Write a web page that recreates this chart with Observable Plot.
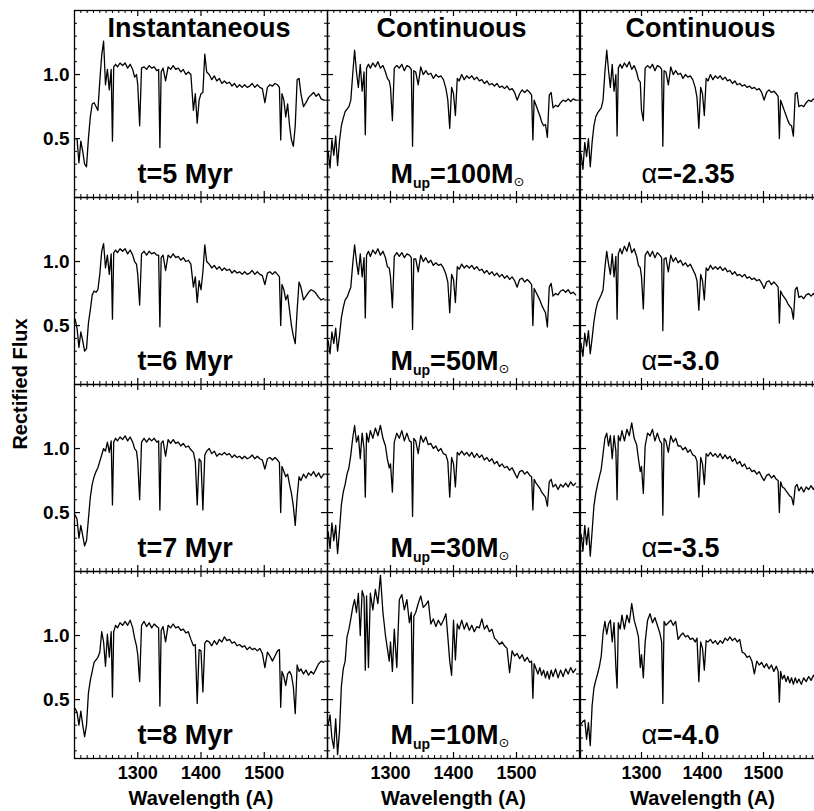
<!DOCTYPE html>
<html><head><meta charset="utf-8">
<script src="https://cdn.jsdelivr.net/npm/d3@7"></script>
<script src="https://cdn.jsdelivr.net/npm/@observablehq/plot@0.6"></script>
<style>
html,body{margin:0;padding:0;background:#fff;}
#wrap{position:relative;width:814px;height:811px;overflow:hidden;background:#fff;font-family:"Liberation Sans",Arial,sans-serif;}
.col{position:absolute;top:0;}
#ylab{position:absolute;left:20px;top:384px;transform:translate(-50%,-50%) rotate(-90deg);font:bold 20px "Liberation Sans",Arial,sans-serif;white-space:nowrap;color:#000;}
</style></head>
<body><div id="wrap"><div id="ylab">Rectified Flux</div></div>
<script>
// Wavelength grid (Angstrom)
const wavelength = [1201,1204,1207,1210,1213,1216,1219,1222,1225,1228,
1231,1234,1237,1240,1243,1246,1249,1252,1255,1258,
1260,1262,1265,1268,1272,1276,1280,1284,1288,1292,
1295,1298,1300,1303,1306,1310,1314,1318,1322,1326,
1330,1333,1335,1337,1340,1344,1348,1352,1356,1360,
1364,1368,1372,1376,1380,1384,1388,1391,1394,1397,
1400,1403,1406,1409,1413,1417,1421,1425,1429,1433,
1437,1441,1445,1449,1453,1457,1461,1465,1469,1473,
1477,1481,1485,1489,1493,1497,1501,1505,1509,1513,
1517,1521,1524,1526,1528,1531,1534,1537,1540,1543,
1546,1549,1552,1555,1558,1562,1566,1570,1574,1578,
1582,1586,1590,1594];

// Instantaneous burst
const t5 = [0.50,0.50,0.31,0.48,0.40,0.30,0.28,0.50,0.67,0.77,
0.78,0.75,0.72,0.95,1.15,1.26,0.92,1.04,0.88,1.04,
0.48,1.06,1.08,1.06,1.09,1.07,1.09,1.05,1.08,1.04,
0.98,1.00,0.92,0.60,1.05,1.06,1.04,1.07,1.05,1.06,
1.03,1.04,0.43,1.02,1.05,0.95,1.06,1.04,1.07,1.04,
1.05,1.02,1.04,1.00,1.02,1.00,0.72,0.85,0.62,0.80,
0.85,0.86,1.16,1.02,1.00,0.96,0.99,0.95,0.97,0.93,
0.95,0.93,0.94,0.91,0.93,0.90,0.92,0.90,0.92,0.90,
0.91,0.93,0.90,0.92,0.90,0.89,0.78,0.90,0.92,0.91,
0.93,0.92,0.90,0.49,0.85,0.80,0.67,0.77,0.60,0.49,
0.44,0.60,0.96,0.97,0.85,0.75,0.78,0.82,0.84,0.86,
0.83,0.85,0.81,0.80];
const t6 = [0.55,0.48,0.33,0.45,0.38,0.30,0.32,0.52,0.62,0.74,
0.77,0.76,0.78,0.90,1.08,1.14,0.95,1.05,0.90,1.06,
0.55,1.07,1.09,1.07,1.10,1.08,1.10,1.06,1.09,1.05,
1.00,0.98,0.90,0.66,1.06,1.08,1.05,1.08,1.06,1.07,
1.05,1.05,0.49,1.03,1.05,0.93,1.05,1.03,1.06,1.03,
1.04,1.01,1.03,1.00,1.01,0.98,0.80,0.88,0.68,0.85,
0.78,0.92,1.13,1.00,0.98,0.95,0.97,0.94,0.96,0.93,
0.95,0.93,0.94,0.91,0.93,0.91,0.92,0.90,0.92,0.90,
0.91,0.93,0.90,0.92,0.90,0.89,0.82,0.91,0.92,0.90,
0.92,0.90,0.88,0.50,0.82,0.78,0.70,0.74,0.62,0.50,
0.42,0.36,0.62,0.84,0.80,0.70,0.73,0.76,0.78,0.77,
0.75,0.72,0.70,0.71];
const t7 = [0.48,0.45,0.30,0.40,0.32,0.24,0.28,0.45,0.62,0.72,
0.78,0.82,0.85,0.90,0.95,1.00,0.98,1.05,0.97,1.06,
0.56,1.05,1.08,1.06,1.09,1.07,1.10,1.06,1.09,1.05,
1.00,0.98,0.90,0.60,1.05,1.08,1.05,1.08,1.06,1.08,
1.05,1.06,0.52,1.04,1.06,0.94,1.07,1.04,1.07,1.04,
1.05,1.02,1.04,1.01,1.02,0.99,0.97,0.90,0.56,0.92,
0.90,0.52,0.95,0.98,1.00,0.96,0.98,0.94,0.96,0.95,
0.97,0.95,0.96,0.93,0.95,0.93,0.94,0.92,0.94,0.92,
0.93,0.95,0.92,0.94,0.92,0.91,0.84,0.92,0.93,0.91,
0.93,0.91,0.89,0.50,0.86,0.82,0.78,0.80,0.72,0.65,
0.55,0.40,0.62,0.78,0.75,0.80,0.77,0.81,0.79,0.82,
0.78,0.81,0.77,0.80];
const t8 = [0.43,0.40,0.30,0.41,0.30,0.21,0.30,0.55,0.65,0.72,
0.79,0.81,0.83,0.87,1.03,0.95,0.76,1.01,0.83,1.03,
0.52,1.03,1.08,1.06,1.10,1.08,1.11,1.08,1.12,1.06,
0.98,0.92,0.85,0.64,1.08,1.11,1.07,1.10,1.06,1.09,
1.07,1.06,0.45,1.04,1.07,0.95,1.08,1.06,1.09,1.06,
1.07,1.04,1.05,1.02,1.03,0.97,0.92,0.93,0.47,0.89,
0.88,0.56,0.94,0.96,0.95,0.92,0.96,0.93,0.97,0.95,
0.99,0.96,0.97,0.94,0.95,0.92,0.93,0.91,0.92,0.89,
0.91,0.89,0.90,0.88,0.90,0.86,0.75,0.87,0.84,0.80,
0.84,0.88,0.89,0.44,0.72,0.68,0.61,0.70,0.72,0.69,
0.60,0.39,0.77,0.72,0.74,0.70,0.73,0.69,0.72,0.70,
0.74,0.78,0.80,0.79];

// Continuous, varying upper mass limit
const m100 = [0.40,0.27,0.49,0.37,0.52,0.29,0.48,0.60,0.66,0.71,
0.73,0.75,0.80,1.00,1.19,1.02,0.90,1.08,0.87,1.02,
0.53,1.05,1.08,1.05,1.09,1.06,1.10,1.05,1.07,1.02,
0.97,0.95,0.90,0.64,1.05,1.07,1.05,1.08,1.03,1.07,
1.06,1.04,0.44,1.03,1.02,0.92,1.06,1.00,1.03,1.00,
1.01,0.97,1.00,0.98,0.99,0.96,0.89,0.80,0.58,0.90,
0.85,0.68,0.97,0.95,1.00,0.96,0.99,0.97,0.99,0.96,
0.98,0.95,0.96,0.93,0.95,0.92,0.93,0.91,0.93,0.90,
0.91,0.89,0.91,0.88,0.89,0.86,0.80,0.85,0.88,0.86,
0.88,0.86,0.84,0.49,0.80,0.76,0.72,0.68,0.63,0.60,
0.61,0.51,0.84,0.86,0.74,0.76,0.75,0.78,0.80,0.79,
0.81,0.79,0.81,0.80];
const m50 = [0.38,0.28,0.45,0.36,0.48,0.30,0.42,0.56,0.64,0.70,
0.72,0.76,0.80,0.98,1.13,1.00,0.90,1.06,0.88,1.03,
0.56,1.05,1.08,1.04,1.09,1.06,1.10,1.05,1.08,1.03,
0.96,0.95,0.88,0.64,1.04,1.07,1.04,1.07,1.03,1.06,
1.05,1.03,0.47,1.02,1.02,0.92,1.05,1.00,1.03,0.99,
1.01,0.97,0.99,0.97,0.98,0.95,0.90,0.84,0.60,0.90,
0.86,0.68,0.96,0.94,0.98,0.95,0.97,0.95,0.97,0.94,
0.96,0.93,0.94,0.91,0.93,0.90,0.92,0.89,0.91,0.88,
0.90,0.87,0.89,0.86,0.88,0.85,0.80,0.86,0.87,0.84,
0.86,0.84,0.82,0.50,0.79,0.76,0.73,0.70,0.66,0.63,
0.60,0.49,0.80,0.83,0.73,0.75,0.74,0.77,0.78,0.76,
0.78,0.75,0.76,0.74];
const m30 = [0.35,0.22,0.42,0.28,0.40,0.18,0.36,0.56,0.66,0.72,
0.80,0.85,0.95,1.08,1.18,1.05,1.10,0.92,1.12,1.00,
0.62,1.12,1.05,1.14,1.08,1.16,1.10,1.18,1.08,1.02,
0.92,0.85,0.88,0.66,1.05,1.12,1.08,1.14,1.06,1.12,
1.06,1.05,0.47,1.08,1.06,0.96,1.10,1.05,1.09,1.03,
1.04,1.00,1.02,0.98,1.00,0.96,0.95,0.90,0.62,0.93,
0.88,0.70,0.97,0.95,0.98,0.95,0.97,0.94,0.97,0.93,
0.96,0.93,0.95,0.91,0.93,0.90,0.92,0.88,0.90,0.86,
0.88,0.85,0.86,0.83,0.85,0.81,0.77,0.82,0.83,0.80,
0.82,0.79,0.78,0.52,0.76,0.73,0.71,0.69,0.66,0.64,
0.62,0.55,0.74,0.76,0.70,0.72,0.68,0.72,0.70,0.73,
0.70,0.74,0.71,0.73];
const m10 = [0.30,0.38,0.20,0.12,0.35,0.07,0.25,0.60,0.74,0.80,
0.99,1.05,1.13,1.22,1.28,1.18,1.33,1.00,1.35,1.30,
0.73,1.31,0.75,1.33,1.20,1.36,1.25,1.47,1.18,1.00,
0.90,0.80,0.95,0.72,1.05,0.75,1.28,1.32,1.20,1.28,
1.10,1.18,0.47,1.15,1.18,1.25,1.31,1.22,1.24,1.27,
1.09,1.13,1.07,1.12,1.08,1.12,1.17,0.99,0.80,0.69,
1.12,0.81,1.09,1.05,1.12,1.05,1.10,1.04,1.08,1.03,
1.07,1.06,1.13,1.05,1.08,1.03,1.05,0.98,0.96,0.93,
0.95,0.92,0.90,0.71,0.88,0.84,0.86,0.82,0.85,0.80,
0.83,0.79,0.80,0.51,0.78,0.74,0.70,0.75,0.69,0.73,
0.67,0.72,0.66,0.73,0.68,0.74,0.67,0.73,0.68,0.74,
0.70,0.75,0.71,0.74];

// Continuous, varying IMF slope
const a235 = [0.38,0.26,0.47,0.36,0.50,0.28,0.47,0.60,0.67,0.70,
0.72,0.74,0.80,1.02,1.19,1.03,0.90,1.08,0.87,1.00,
0.52,1.05,1.08,1.05,1.09,1.06,1.10,1.04,1.07,1.02,
0.96,0.94,0.72,0.64,1.05,1.07,1.05,1.08,1.03,1.07,
1.06,1.04,0.44,1.03,1.02,0.92,1.06,1.00,1.03,1.00,
1.01,0.97,1.00,0.98,0.99,0.96,0.90,0.82,0.58,0.90,
0.85,0.68,0.97,0.95,1.00,0.96,0.99,0.97,0.99,0.96,
0.98,0.95,0.96,0.93,0.95,0.92,0.93,0.91,0.92,0.90,
0.91,0.89,0.90,0.88,0.89,0.86,0.80,0.86,0.88,0.86,
0.87,0.85,0.83,0.50,0.80,0.76,0.72,0.68,0.64,0.61,
0.60,0.52,0.85,0.86,0.75,0.76,0.75,0.78,0.80,0.79,
0.81,0.79,0.81,0.80];
const a30 = [0.36,0.26,0.44,0.34,0.46,0.28,0.40,0.53,0.62,0.68,
0.71,0.74,0.78,0.95,1.08,0.98,0.90,1.06,0.88,1.04,
0.55,1.06,1.10,1.06,1.12,1.08,1.15,1.07,1.10,1.04,
0.97,0.95,0.88,0.63,1.05,1.08,1.04,1.08,1.03,1.07,
1.05,1.03,0.46,1.02,1.03,0.92,1.05,1.00,1.03,0.99,
1.01,0.97,0.99,0.96,0.98,0.94,0.90,0.85,0.62,0.90,
0.85,0.70,0.95,0.93,0.97,0.94,0.96,0.94,0.96,0.93,
0.95,0.92,0.93,0.90,0.92,0.89,0.90,0.88,0.90,0.87,
0.88,0.86,0.87,0.85,0.86,0.83,0.79,0.84,0.85,0.82,
0.84,0.82,0.80,0.52,0.77,0.74,0.72,0.70,0.67,0.65,
0.63,0.55,0.78,0.80,0.72,0.73,0.71,0.74,0.75,0.73,
0.75,0.72,0.74,0.73];
const a35 = [0.33,0.20,0.40,0.25,0.38,0.16,0.35,0.55,0.65,0.72,
0.78,0.84,0.96,1.08,1.12,1.02,1.10,0.92,1.10,0.98,
0.60,1.10,1.06,1.14,1.06,1.15,1.10,1.20,1.08,1.03,
0.92,0.82,0.86,0.65,1.02,1.12,1.10,1.15,1.06,1.12,
1.06,1.04,0.48,1.08,1.06,0.97,1.10,1.05,1.08,1.02,
1.02,0.99,1.01,0.97,0.99,0.95,0.94,0.90,0.62,0.93,
0.88,0.72,0.96,0.94,0.97,0.94,0.96,0.93,0.96,0.92,
0.95,0.92,0.94,0.90,0.92,0.88,0.90,0.86,0.88,0.84,
0.85,0.82,0.83,0.80,0.82,0.78,0.75,0.79,0.80,0.77,
0.79,0.76,0.75,0.50,0.74,0.70,0.69,0.67,0.65,0.63,
0.62,0.56,0.70,0.72,0.67,0.70,0.66,0.70,0.68,0.71,
0.68,0.72,0.69,0.71];
const a40 = [0.31,0.33,0.34,0.19,0.32,0.14,0.45,0.59,0.65,0.70,
0.76,0.84,1.02,1.11,1.01,1.09,1.12,0.95,1.10,0.75,
0.59,1.10,1.05,1.16,1.05,1.16,1.10,1.25,1.12,1.05,
0.99,0.75,0.85,0.67,0.95,1.12,1.17,1.10,1.14,1.08,
1.02,0.95,0.47,1.11,1.08,1.10,1.12,1.08,1.11,0.97,
1.00,1.02,0.99,1.00,0.97,0.98,0.95,0.98,0.64,0.95,
0.90,0.73,0.96,0.95,0.97,0.94,0.96,0.93,0.96,0.94,
0.98,0.96,0.99,0.96,0.98,0.95,0.97,0.87,0.86,0.83,
0.84,0.80,0.70,0.80,0.77,0.79,0.75,0.78,0.74,0.77,
0.72,0.76,0.72,0.48,0.72,0.66,0.69,0.64,0.68,0.63,
0.67,0.62,0.67,0.63,0.66,0.62,0.67,0.64,0.68,0.65,
0.69,0.66,0.69,0.68];

const columnTitles = ["Instantaneous", "Continuous", "Continuous"];
const panelLabels = [
  ["t=5 Myr", "t=6 Myr", "t=7 Myr", "t=8 Myr"],
  ["M_up=100M\u2299", "M_up=50M\u2299", "M_up=30M\u2299", "M_up=10M\u2299"],
  ["\u03b1=-2.35", "\u03b1=-3.0", "\u03b1=-3.5", "\u03b1=-4.0"]
];
const columnSeries = [[t5, t6, t7, t8], [m100, m50, m30, m10], [a235, a30, a35, a40]];
const xTicks = [1300, 1400, 1500];
const yTicks = [0.5, 1.0];
const xLabel = "Wavelength (A)";

// layout
const H = 187, MT = 10, TOTAL_H = 811;
const layout = [
  {left: 0, ml: 74, mr: 2, w: 253, dx: 63, yaxis: true},
  {left: 325, ml: 2, mr: 2, w: 252, dx: 63, yaxis: false},
  {left: 578, ml: 2, mr: 2, w: 244, dx: 61, yaxis: false}
];
const xMinor = d3.range(1210, 1600, 10).filter(v => !xTicks.includes(v));
const yMinor = d3.range(1, 15).map(k => k / 10).filter(v => !yTicks.includes(v));
const wrap = document.getElementById("wrap");

layout.forEach((L, c) => {
  const data = columnSeries[c].flatMap((s, r) => s.map((f, i) => ({row: r, wl: wavelength[i], flux: f})));
  const W = L.w;
  const marks = [
    Plot.tickX(xMinor, {x: d => d, insetTop: H - 3, stroke: "#000", strokeWidth: 1}),
    Plot.tickX(xTicks, {x: d => d, insetTop: H - 6, stroke: "#000", strokeWidth: 1.2}),
    Plot.tickX(xMinor, {x: d => d, insetBottom: H - 3, stroke: "#000", strokeWidth: 1}),
    Plot.tickX(xTicks, {x: d => d, insetBottom: H - 6, stroke: "#000", strokeWidth: 1.2}),
    Plot.tickY(yMinor, {y: d => d, insetRight: W - 3, stroke: "#000", strokeWidth: 1}),
    Plot.tickY(yTicks, {y: d => d, insetRight: W - 6, stroke: "#000", strokeWidth: 1.2}),
    Plot.tickY(yMinor, {y: d => d, insetLeft: W - 3, stroke: "#000", strokeWidth: 1}),
    Plot.tickY(yTicks, {y: d => d, insetLeft: W - 6, stroke: "#000", strokeWidth: 1.2}),
    Plot.line(data, {x: "wl", y: "flux", fy: "row", stroke: "#000", strokeWidth: 1.3, curve: "linear"}),
    Plot.frame({stroke: "#000", strokeWidth: 1.3}),
    Plot.text([columnTitles[c]], {fy: () => 0, text: d => d, frameAnchor: "top", lineAnchor: "bottom", dy: 26, dx: -2, fontSize: 27, fill: "#000"}),
    Plot.text(panelLabels[c], {fy: (d, i) => i, text: d => d, frameAnchor: "bottom-left", textAnchor: "start", lineAnchor: "bottom", dx: L.dx, dy: -15, fontSize: 27, fill: "#000"}),
    Plot.axisX({ticks: xTicks, tickSize: 0, tickPadding: 8, tickFormat: d => String(d), fontSize: 18, label: null}),
    Plot.text([xLabel], {fy: () => 3, text: d => d, frameAnchor: "bottom", lineAnchor: "bottom", dy: 46, fontSize: 20, fill: "#000"})
  ];
  if (L.yaxis) {
    marks.push(Plot.axisY({ticks: yTicks, tickSize: 0, tickPadding: 5, tickFormat: d => d.toFixed(1), fontSize: 19, label: null}));
  }
  const svg = Plot.plot({
    width: L.ml + W + L.mr,
    height: TOTAL_H,
    marginTop: MT,
    marginBottom: TOTAL_H - MT - 4 * H,
    marginLeft: L.ml,
    marginRight: L.mr,
    x: {domain: [1200, 1600]},
    y: {domain: [0.04, 1.50], axis: L.yaxis ? undefined : null},
    fy: {domain: [0, 1, 2, 3], padding: 0, axis: null},
    style: {fontFamily: "'Liberation Sans', Arial, sans-serif", fontWeight: "bold", fontSize: "19px", color: "#000", background: "transparent", overflow: "visible"},
    marks
  });
  // rich text: subscripts and Greek letters
  d3.select(svg).selectAll("text").each(function () {
    const t = this.textContent;
    const sel = d3.select(this);
    if (t.startsWith("M_up=")) {
      const num = t.slice(5, t.length - 2);
      sel.text(null);
      sel.append("tspan").text("M");
      sel.append("tspan").attr("font-size", 14).attr("dy", 5).text("up");
      sel.append("tspan").attr("dy", -5).text("=" + num + "M");
      sel.append("tspan").attr("font-size", 13).attr("font-weight", "normal").attr("font-family", "DejaVu Sans").attr("dy", 3).text("\u2299");
    } else if (t.startsWith("\u03b1")) {
      sel.text(null);
      sel.append("tspan").attr("font-weight", "normal").text("\u03b1");
      sel.append("tspan").text(t.slice(1));
    }
  });
  svg.classList.add("col");
  svg.style.left = L.left + "px";
  wrap.appendChild(svg);
});
</script>
</body></html>
